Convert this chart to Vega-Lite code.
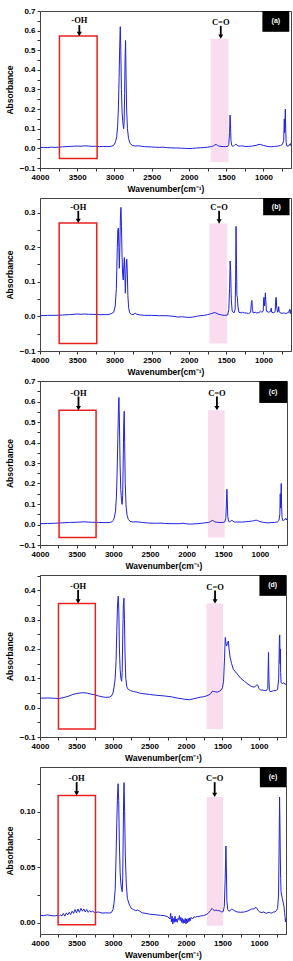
{
"$schema": "https://vega.github.io/schema/vega-lite/v6.json",
"padding": {"left": 4, "top": 6, "right": 4, "bottom": 2},
"background": "white",
"bounds": "flush",
"spacing": 30,
"datasets": {
"sa": [
{"w":4000,"a":0.004},{"w":3950,"a":0.005},{"w":3900,"a":0.004},{"w":3850,"a":0.006},{"w":3800,"a":0.005},{"w":3750,"a":0.006},{"w":3700,"a":0.008},{"w":3650,"a":0.009},{"w":3600,"a":0.01},{"w":3550,"a":0.011},{"w":3500,"a":0.012},{"w":3450,"a":0.011},{"w":3400,"a":0.013},{"w":3350,"a":0.012},{"w":3300,"a":0.01},{"w":3250,"a":0.011},{"w":3200,"a":0.009},{"w":3150,"a":0.01},{"w":3100,"a":0.009},{"w":3050,"a":0.01},{"w":3020,"a":0.014},{"w":3000,"a":0.02},{"w":2985,"a":0.035},{"w":2970,"a":0.06},{"w":2958,"a":0.11},{"w":2948,"a":0.2},{"w":2938,"a":0.36},{"w":2930,"a":0.52},{"w":2922,"a":0.62},{"w":2915,"a":0.5},{"w":2907,"a":0.3},{"w":2897,"a":0.18},{"w":2887,"a":0.13},{"w":2877,"a":0.1},{"w":2870,"a":0.14},{"w":2864,"a":0.28},{"w":2858,"a":0.45},{"w":2851,"a":0.55},{"w":2845,"a":0.38},{"w":2837,"a":0.2},{"w":2826,"a":0.1},{"w":2811,"a":0.05},{"w":2790,"a":0.025},{"w":2760,"a":0.015},{"w":2720,"a":0.012},{"w":2680,"a":0.013},{"w":2640,"a":0.011},{"w":2600,"a":0.009},{"w":2550,"a":0.008},{"w":2500,"a":0.007},{"w":2450,"a":0.006},{"w":2400,"a":0.005},{"w":2350,"a":0.006},{"w":2300,"a":0.004},{"w":2250,"a":0.003},{"w":2200,"a":0.002},{"w":2150,"a":0.002},{"w":2100,"a":0.001},{"w":2050,"a":0.0},{"w":2000,"a":-0.001},{"w":1950,"a":0.0},{"w":1900,"a":0.002},{"w":1850,"a":0.003},{"w":1800,"a":0.004},{"w":1750,"a":0.006},{"w":1700,"a":0.009},{"w":1670,"a":0.013},{"w":1650,"a":0.018},{"w":1635,"a":0.02},{"w":1620,"a":0.016},{"w":1600,"a":0.012},{"w":1570,"a":0.01},{"w":1540,"a":0.009},{"w":1510,"a":0.009},{"w":1480,"a":0.01},{"w":1465,"a":0.02},{"w":1455,"a":0.08},{"w":1448,"a":0.17},{"w":1442,"a":0.12},{"w":1436,"a":0.04},{"w":1426,"a":0.015},{"w":1405,"a":0.01},{"w":1385,"a":0.018},{"w":1370,"a":0.022},{"w":1358,"a":0.016},{"w":1335,"a":0.012},{"w":1310,"a":0.012},{"w":1290,"a":0.013},{"w":1250,"a":0.01},{"w":1200,"a":0.01},{"w":1150,"a":0.012},{"w":1100,"a":0.015},{"w":1060,"a":0.02},{"w":1040,"a":0.02},{"w":1000,"a":0.015},{"w":950,"a":0.01},{"w":900,"a":0.008},{"w":850,"a":0.01},{"w":800,"a":0.012},{"w":770,"a":0.015},{"w":745,"a":0.02},{"w":728,"a":0.04},{"w":720,"a":0.15},{"w":716,"a":0.08},{"w":711,"a":0.12},{"w":706,"a":0.2},{"w":701,"a":0.1},{"w":695,"a":0.03},{"w":685,"a":0.012},{"w":665,"a":0.012},{"w":650,"a":0.02},{"w":640,"a":0.015},{"w":630,"a":0.028}
],
"sb": [
{"w":4000,"a":0.002},{"w":3900,"a":0.003},{"w":3800,"a":0.003},{"w":3700,"a":0.004},{"w":3600,"a":0.005},{"w":3500,"a":0.007},{"w":3450,"a":0.006},{"w":3400,"a":0.007},{"w":3350,"a":0.006},{"w":3300,"a":0.006},{"w":3200,"a":0.005},{"w":3100,"a":0.005},{"w":3050,"a":0.007},{"w":3010,"a":0.012},{"w":2990,"a":0.03},{"w":2975,"a":0.08},{"w":2962,"a":0.2},{"w":2955,"a":0.25},{"w":2948,"a":0.255},{"w":2941,"a":0.2},{"w":2935,"a":0.139},{"w":2928,"a":0.2},{"w":2920,"a":0.29},{"w":2913,"a":0.315},{"w":2906,"a":0.26},{"w":2898,"a":0.17},{"w":2890,"a":0.12},{"w":2882,"a":0.105},{"w":2874,"a":0.15},{"w":2867,"a":0.17},{"w":2860,"a":0.12},{"w":2854,"a":0.067},{"w":2848,"a":0.11},{"w":2840,"a":0.16},{"w":2834,"a":0.165},{"w":2827,"a":0.12},{"w":2820,"a":0.06},{"w":2810,"a":0.025},{"w":2795,"a":0.01},{"w":2770,"a":0.005},{"w":2740,"a":0.006},{"w":2722,"a":0.01},{"w":2705,"a":0.006},{"w":2650,"a":0.004},{"w":2600,"a":0.003},{"w":2500,"a":0.003},{"w":2400,"a":0.002},{"w":2300,"a":0.002},{"w":2200,"a":0.0},{"w":2150,"a":-0.002},{"w":2100,"a":-0.001},{"w":2050,"a":-0.002},{"w":2000,"a":-0.003},{"w":1950,"a":-0.002},{"w":1900,"a":0.0},{"w":1850,"a":0.002},{"w":1800,"a":0.003},{"w":1750,"a":0.005},{"w":1700,"a":0.008},{"w":1660,"a":0.011},{"w":1640,"a":0.01},{"w":1600,"a":0.006},{"w":1560,"a":0.004},{"w":1520,"a":0.003},{"w":1480,"a":0.004},{"w":1465,"a":0.02},{"w":1455,"a":0.08},{"w":1447,"a":0.16},{"w":1440,"a":0.13},{"w":1432,"a":0.05},{"w":1420,"a":0.015},{"w":1395,"a":0.01},{"w":1380,"a":0.02},{"w":1374,"a":0.1},{"w":1368,"a":0.26},{"w":1362,"a":0.15},{"w":1356,"a":0.06},{"w":1350,"a":0.055},{"w":1343,"a":0.03},{"w":1330,"a":0.012},{"w":1300,"a":0.01},{"w":1280,"a":0.012},{"w":1260,"a":0.01},{"w":1230,"a":0.01},{"w":1200,"a":0.008},{"w":1172,"a":0.012},{"w":1162,"a":0.04},{"w":1155,"a":0.046},{"w":1148,"a":0.02},{"w":1138,"a":0.01},{"w":1110,"a":0.012},{"w":1090,"a":0.01},{"w":1060,"a":0.011},{"w":1040,"a":0.015},{"w":1020,"a":0.012},{"w":1003,"a":0.015},{"w":997,"a":0.05},{"w":992,"a":0.055},{"w":986,"a":0.03},{"w":980,"a":0.04},{"w":974,"a":0.068},{"w":968,"a":0.045},{"w":960,"a":0.015},{"w":930,"a":0.012},{"w":905,"a":0.014},{"w":895,"a":0.024},{"w":889,"a":0.012},{"w":860,"a":0.01},{"w":842,"a":0.015},{"w":835,"a":0.05},{"w":829,"a":0.055},{"w":823,"a":0.03},{"w":812,"a":0.012},{"w":800,"a":0.015},{"w":795,"a":0.028},{"w":790,"a":0.015},{"w":775,"a":0.01},{"w":750,"a":0.009},{"w":720,"a":0.01},{"w":700,"a":0.008},{"w":680,"a":0.01},{"w":660,"a":0.012},{"w":648,"a":0.02},{"w":640,"a":0.008},{"w":630,"a":0.02}
],
"sc": [
{"w":4000,"a":0.004},{"w":3900,"a":0.005},{"w":3800,"a":0.006},{"w":3700,"a":0.008},{"w":3600,"a":0.01},{"w":3500,"a":0.011},{"w":3400,"a":0.013},{"w":3300,"a":0.011},{"w":3200,"a":0.01},{"w":3100,"a":0.009},{"w":3050,"a":0.01},{"w":3020,"a":0.013},{"w":3000,"a":0.02},{"w":2985,"a":0.035},{"w":2970,"a":0.065},{"w":2958,"a":0.13},{"w":2948,"a":0.25},{"w":2938,"a":0.42},{"w":2930,"a":0.56},{"w":2923,"a":0.62},{"w":2916,"a":0.5},{"w":2908,"a":0.3},{"w":2898,"a":0.17},{"w":2888,"a":0.12},{"w":2880,"a":0.098},{"w":2872,"a":0.14},{"w":2865,"a":0.3},{"w":2858,"a":0.48},{"w":2851,"a":0.552},{"w":2845,"a":0.4},{"w":2837,"a":0.2},{"w":2826,"a":0.09},{"w":2812,"a":0.045},{"w":2795,"a":0.025},{"w":2770,"a":0.015},{"w":2730,"a":0.012},{"w":2690,"a":0.013},{"w":2650,"a":0.012},{"w":2600,"a":0.01},{"w":2550,"a":0.008},{"w":2500,"a":0.007},{"w":2400,"a":0.006},{"w":2350,"a":0.007},{"w":2300,"a":0.005},{"w":2200,"a":0.004},{"w":2100,"a":0.004},{"w":2050,"a":0.006},{"w":2000,"a":0.003},{"w":1950,"a":0.002},{"w":1900,"a":0.003},{"w":1850,"a":0.004},{"w":1800,"a":0.006},{"w":1750,"a":0.008},{"w":1700,"a":0.01},{"w":1670,"a":0.015},{"w":1650,"a":0.02},{"w":1635,"a":0.018},{"w":1615,"a":0.013},{"w":1590,"a":0.011},{"w":1560,"a":0.01},{"w":1530,"a":0.01},{"w":1500,"a":0.01},{"w":1480,"a":0.012},{"w":1465,"a":0.03},{"w":1457,"a":0.1},{"w":1450,"a":0.172},{"w":1444,"a":0.11},{"w":1438,"a":0.04},{"w":1428,"a":0.016},{"w":1410,"a":0.012},{"w":1395,"a":0.018},{"w":1385,"a":0.022},{"w":1370,"a":0.016},{"w":1345,"a":0.012},{"w":1300,"a":0.012},{"w":1250,"a":0.012},{"w":1200,"a":0.013},{"w":1150,"a":0.015},{"w":1100,"a":0.017},{"w":1070,"a":0.02},{"w":1050,"a":0.021},{"w":1030,"a":0.019},{"w":1000,"a":0.014},{"w":950,"a":0.01},{"w":900,"a":0.008},{"w":850,"a":0.009},{"w":800,"a":0.01},{"w":760,"a":0.013},{"w":740,"a":0.02},{"w":728,"a":0.05},{"w":722,"a":0.15},{"w":718,"a":0.08},{"w":714,"a":0.12},{"w":709,"a":0.2},{"w":704,"a":0.1},{"w":698,"a":0.035},{"w":690,"a":0.02},{"w":675,"a":0.02},{"w":660,"a":0.025},{"w":650,"a":0.03},{"w":640,"a":0.022},{"w":630,"a":0.03}
],
"sd": [
{"w":4000,"a":0.032},{"w":3900,"a":0.033},{"w":3800,"a":0.032},{"w":3750,"a":0.031},{"w":3700,"a":0.033},{"w":3650,"a":0.036},{"w":3600,"a":0.04},{"w":3550,"a":0.045},{"w":3500,"a":0.048},{"w":3450,"a":0.05},{"w":3400,"a":0.051},{"w":3350,"a":0.049},{"w":3300,"a":0.046},{"w":3250,"a":0.044},{"w":3200,"a":0.04},{"w":3150,"a":0.037},{"w":3100,"a":0.035},{"w":3050,"a":0.036},{"w":3020,"a":0.04},{"w":3000,"a":0.05},{"w":2985,"a":0.07},{"w":2970,"a":0.1},{"w":2958,"a":0.16},{"w":2948,"a":0.26},{"w":2938,"a":0.35},{"w":2928,"a":0.38},{"w":2920,"a":0.33},{"w":2912,"a":0.2},{"w":2902,"a":0.13},{"w":2892,"a":0.1},{"w":2882,"a":0.09},{"w":2874,"a":0.12},{"w":2866,"a":0.25},{"w":2858,"a":0.35},{"w":2850,"a":0.373},{"w":2843,"a":0.3},{"w":2835,"a":0.18},{"w":2825,"a":0.1},{"w":2810,"a":0.07},{"w":2790,"a":0.062},{"w":2760,"a":0.058},{"w":2720,"a":0.055},{"w":2680,"a":0.053},{"w":2640,"a":0.05},{"w":2600,"a":0.048},{"w":2500,"a":0.045},{"w":2400,"a":0.042},{"w":2300,"a":0.04},{"w":2200,"a":0.037},{"w":2150,"a":0.034},{"w":2100,"a":0.032},{"w":2050,"a":0.03},{"w":2000,"a":0.028},{"w":1950,"a":0.027},{"w":1900,"a":0.03},{"w":1850,"a":0.033},{"w":1800,"a":0.036},{"w":1760,"a":0.037},{"w":1720,"a":0.04},{"w":1690,"a":0.043},{"w":1660,"a":0.048},{"w":1640,"a":0.056},{"w":1620,"a":0.055},{"w":1600,"a":0.054},{"w":1570,"a":0.053},{"w":1540,"a":0.056},{"w":1520,"a":0.06},{"w":1500,"a":0.068},{"w":1485,"a":0.09},{"w":1472,"a":0.17},{"w":1462,"a":0.239},{"w":1455,"a":0.225},{"w":1445,"a":0.21},{"w":1432,"a":0.218},{"w":1420,"a":0.227},{"w":1410,"a":0.2},{"w":1395,"a":0.17},{"w":1375,"a":0.15},{"w":1350,"a":0.13},{"w":1300,"a":0.115},{"w":1250,"a":0.1},{"w":1200,"a":0.09},{"w":1150,"a":0.08},{"w":1100,"a":0.072},{"w":1070,"a":0.07},{"w":1050,"a":0.072},{"w":1030,"a":0.078},{"w":1015,"a":0.075},{"w":1000,"a":0.065},{"w":980,"a":0.06},{"w":950,"a":0.06},{"w":920,"a":0.058},{"w":900,"a":0.058},{"w":880,"a":0.065},{"w":870,"a":0.188},{"w":864,"a":0.1},{"w":857,"a":0.058},{"w":850,"a":0.055},{"w":820,"a":0.056},{"w":800,"a":0.058},{"w":780,"a":0.058},{"w":760,"a":0.06},{"w":745,"a":0.062},{"w":730,"a":0.1},{"w":720,"a":0.24},{"w":715,"a":0.248},{"w":711,"a":0.15},{"w":707,"a":0.2},{"w":703,"a":0.12},{"w":697,"a":0.085},{"w":680,"a":0.082},{"w":660,"a":0.085},{"w":645,"a":0.08},{"w":630,"a":0.08}
],
"se": [
{"w":4000,"a":0.0068},{"w":3950,"a":0.0065},{"w":3900,"a":0.0072},{"w":3850,"a":0.0066},{"w":3800,"a":0.0062},{"w":3760,"a":0.0068},{"w":3740,"a":0.0058},{"w":3720,"a":0.0072},{"w":3700,"a":0.0062},{"w":3680,"a":0.0085},{"w":3660,"a":0.006},{"w":3640,"a":0.009},{"w":3620,"a":0.0072},{"w":3600,"a":0.0095},{"w":3580,"a":0.0075},{"w":3560,"a":0.0105},{"w":3540,"a":0.0085},{"w":3520,"a":0.012},{"w":3500,"a":0.009},{"w":3480,"a":0.0125},{"w":3460,"a":0.0095},{"w":3440,"a":0.013},{"w":3420,"a":0.0105},{"w":3400,"a":0.0125},{"w":3380,"a":0.0098},{"w":3360,"a":0.012},{"w":3340,"a":0.0095},{"w":3320,"a":0.011},{"w":3300,"a":0.0098},{"w":3280,"a":0.0105},{"w":3250,"a":0.0092},{"w":3200,"a":0.0098},{"w":3150,"a":0.0088},{"w":3100,"a":0.009},{"w":3050,"a":0.0088},{"w":3020,"a":0.0095},{"w":3000,"a":0.012},{"w":2985,"a":0.018},{"w":2970,"a":0.03},{"w":2958,"a":0.06},{"w":2948,"a":0.09},{"w":2938,"a":0.115},{"w":2930,"a":0.125},{"w":2922,"a":0.11},{"w":2912,"a":0.07},{"w":2902,"a":0.045},{"w":2892,"a":0.035},{"w":2882,"a":0.03},{"w":2874,"a":0.028},{"w":2867,"a":0.04},{"w":2860,"a":0.08},{"w":2853,"a":0.118},{"w":2848,"a":0.126},{"w":2841,"a":0.1},{"w":2831,"a":0.06},{"w":2818,"a":0.035},{"w":2803,"a":0.022},{"w":2780,"a":0.017},{"w":2750,"a":0.013},{"w":2720,"a":0.012},{"w":2690,"a":0.011},{"w":2660,"a":0.0115},{"w":2640,"a":0.0108},{"w":2600,"a":0.009},{"w":2550,"a":0.0085},{"w":2500,"a":0.0078},{"w":2450,"a":0.0075},{"w":2400,"a":0.0072},{"w":2350,"a":0.0068},{"w":2300,"a":0.0065},{"w":2250,"a":0.0055},{"w":2220,"a":0.0035},{"w":2210,"a":0.0085},{"w":2200,"a":0.001},{"w":2190,"a":0.006},{"w":2180,"a":-0.001},{"w":2170,"a":0.004},{"w":2160,"a":0.0005},{"w":2150,"a":0.006},{"w":2140,"a":0.001},{"w":2130,"a":0.0035},{"w":2120,"a":0.0005},{"w":2110,"a":0.004},{"w":2100,"a":0.003},{"w":2090,"a":0.0065},{"w":2080,"a":0.002},{"w":2070,"a":0.005},{"w":2060,"a":0.0005},{"w":2050,"a":0.004},{"w":2040,"a":-0.0005},{"w":2030,"a":0.003},{"w":2020,"a":0.0},{"w":2010,"a":0.004},{"w":2000,"a":-0.001},{"w":1990,"a":0.0035},{"w":1980,"a":0.0},{"w":1970,"a":0.004},{"w":1960,"a":0.001},{"w":1950,"a":0.0045},{"w":1940,"a":0.002},{"w":1930,"a":0.005},{"w":1910,"a":0.0035},{"w":1890,"a":0.0055},{"w":1870,"a":0.005},{"w":1850,"a":0.0058},{"w":1820,"a":0.0058},{"w":1800,"a":0.0062},{"w":1760,"a":0.0065},{"w":1720,"a":0.0075},{"w":1690,"a":0.009},{"w":1665,"a":0.011},{"w":1645,"a":0.013},{"w":1630,"a":0.012},{"w":1610,"a":0.011},{"w":1590,"a":0.0115},{"w":1570,"a":0.011},{"w":1555,"a":0.0112},{"w":1530,"a":0.0105},{"w":1510,"a":0.0098},{"w":1490,"a":0.0102},{"w":1475,"a":0.015},{"w":1463,"a":0.04},{"w":1453,"a":0.069},{"w":1447,"a":0.05},{"w":1440,"a":0.02},{"w":1428,"a":0.012},{"w":1410,"a":0.0105},{"w":1395,"a":0.011},{"w":1375,"a":0.0125},{"w":1360,"a":0.012},{"w":1340,"a":0.011},{"w":1300,"a":0.0098},{"w":1250,"a":0.0095},{"w":1200,"a":0.0098},{"w":1150,"a":0.0108},{"w":1120,"a":0.0118},{"w":1100,"a":0.0125},{"w":1080,"a":0.0125},{"w":1060,"a":0.0128},{"w":1045,"a":0.0142},{"w":1030,"a":0.013},{"w":1010,"a":0.011},{"w":990,"a":0.0098},{"w":960,"a":0.0092},{"w":940,"a":0.0098},{"w":920,"a":0.0092},{"w":900,"a":0.0085},{"w":880,"a":0.0092},{"w":860,"a":0.0095},{"w":840,"a":0.0088},{"w":820,"a":0.009},{"w":800,"a":0.0098},{"w":780,"a":0.0098},{"w":760,"a":0.0112},{"w":745,"a":0.013},{"w":732,"a":0.025},{"w":724,"a":0.07},{"w":718,"a":0.113},{"w":713,"a":0.09},{"w":708,"a":0.06},{"w":703,"a":0.04},{"w":698,"a":0.028},{"w":690,"a":0.025},{"w":680,"a":0.022},{"w":668,"a":0.018},{"w":658,"a":0.015},{"w":650,"a":0.0095},{"w":643,"a":0.005},{"w":638,"a":0.001},{"w":634,"a":0.0025},{"w":630,"a":0.004}
],
"aa": [
{"k":"pink","w":1708,"w2":1469,"a":0.558,"a2":-0.069},
{"k":"red","w":3739,"w2":3233,"a":0.572,"a2":-0.052},
{"k":"shaft","w":3472,"a":0.628,"a2":0.583},
{"k":"shaft","w":1573,"a":0.624,"a2":0.569},
{"k":"head","w":3472,"a":0.583},
{"k":"head","w":1573,"a":0.569},
{"k":"txt","w":3472,"a":0.654,"t":"-OH"},
{"k":"txt","w":1573,"a":0.644,"t":"C=O"},
{"k":"box","w":1014,"w2":653,"a":0.7,"a2":0.594},
{"k":"lab","w":833,"a":0.647,"t":"(a)"}
],
"ab": [
{"k":"pink","w":1725,"w2":1487,"a":0.268,"a2":-0.078},
{"k":"red","w":3743,"w2":3238,"a":0.27,"a2":-0.078},
{"k":"shaft","w":3486,"a":0.305,"a2":0.276},
{"k":"shaft","w":1595,"a":0.305,"a2":0.274},
{"k":"head","w":3486,"a":0.276},
{"k":"head","w":1595,"a":0.274},
{"k":"txt","w":3486,"a":0.316,"t":"-OH"},
{"k":"txt","w":1595,"a":0.316,"t":"C=O"},
{"k":"box","w":1004,"w2":650,"a":0.342,"a2":0.292},
{"k":"lab","w":827,"a":0.317,"t":"(b)"}
],
"ac": [
{"k":"pink","w":1709,"w2":1481,"a":0.557,"a2":-0.064},
{"k":"red","w":3740,"w2":3235,"a":0.557,"a2":-0.064},
{"k":"shaft","w":3475,"a":0.624,"a2":0.568},
{"k":"shaft","w":1586,"a":0.624,"a2":0.568},
{"k":"head","w":3475,"a":0.568},
{"k":"head","w":1586,"a":0.568},
{"k":"txt","w":3475,"a":0.642,"t":"-OH"},
{"k":"txt","w":1586,"a":0.642,"t":"C=O"},
{"k":"box","w":1008,"w2":630,"a":0.7,"a2":0.593},
{"k":"lab","w":819,"a":0.646,"t":"(c)"}
],
"ad": [
{"k":"pink","w":1720,"w2":1493,"a":0.355,"a2":-0.073},
{"k":"red","w":3747,"w2":3242,"a":0.355,"a2":-0.073},
{"k":"shaft","w":3478,"a":0.401,"a2":0.362},
{"k":"shaft","w":1602,"a":0.399,"a2":0.362},
{"k":"head","w":3478,"a":0.362},
{"k":"head","w":1602,"a":0.362},
{"k":"txt","w":3478,"a":0.413,"t":"-OH"},
{"k":"txt","w":1602,"a":0.411,"t":"C=O"},
{"k":"box","w":994,"w2":630,"a":0.452,"a2":0.381},
{"k":"lab","w":812,"a":0.417,"t":"(d)"}
],
"ae": [
{"k":"pink","w":1716,"w2":1494,"a":0.113,"a2":-0.0025},
{"k":"red","w":3752,"w2":3240,"a":0.1143,"a2":-0.0018},
{"k":"shaft","w":3498,"a":0.1264,"a2":0.1163},
{"k":"shaft","w":1607,"a":0.1264,"a2":0.115},
{"k":"head","w":3498,"a":0.1163},
{"k":"head","w":1607,"a":0.115},
{"k":"txt","w":3498,"a":0.13,"t":"-OH"},
{"k":"txt","w":1607,"a":0.13,"t":"C=O"},
{"k":"box","w":988,"w2":630,"a":0.14,"a2":0.1218},
{"k":"lab","w":809,"a":0.131,"t":"(e)"}
]
},
"vconcat": [
{
"width": 251, "height": 157,
"encoding": {
"x": {"field": "w", "type": "quantitative", "scale": {"domain": [630, 4000], "reverse": true, "nice": false, "zero": false}, "axis": {"title": "Wavenumber(cm⁻¹)", "values": [4000,3750,3500,3250,3000,2750,2500,2250,2000,1750,1500,1250,1000,750], "format": "d", "labelExpr": "datum.value % 500 == 0 ? datum.label : ''"}},
"y": {"field": "a", "type": "quantitative", "scale": {"domain": [-0.1, 0.7], "nice": false, "zero": false}, "axis": {"title": "Absorbance", "values": [-0.1,-0.05,0,0.05,0.1,0.15,0.2,0.25,0.3,0.35,0.4,0.45,0.5,0.55,0.6,0.65,0.7], "format": ".1f", "labelExpr": "abs(round(datum.value*100)) % 10 == 0 ? datum.label : ''"}}
},
"layer": [
{"data": {"name": "aa"}, "transform": [{"filter": "datum.k == 'pink'"}], "mark": {"type": "rect", "color": "#f9dcee"}, "encoding": {"x2": {"field": "w2"}, "y2": {"field": "a2"}}},
{"data": {"name": "sa"}, "mark": {"type": "line", "color": "#1e22e0", "strokeWidth": 1, "clip": true}, "encoding": {}},
{"data": {"name": "aa"}, "transform": [{"filter": "datum.k == 'red'"}], "mark": {"type": "rect", "fill": "transparent", "stroke": "#e8201e", "strokeWidth": 1.5}, "encoding": {"x2": {"field": "w2"}, "y2": {"field": "a2"}}},
{"data": {"name": "aa"}, "transform": [{"filter": "datum.k == 'shaft'"}], "mark": {"type": "rule", "color": "#000", "strokeWidth": 1.8}, "encoding": {"y2": {"field": "a2"}}},
{"data": {"name": "aa"}, "transform": [{"filter": "datum.k == 'head'"}], "mark": {"type": "point", "shape": "triangle-down", "filled": true, "size": 25, "color": "#000", "opacity": 1}},
{"data": {"name": "aa"}, "transform": [{"filter": "datum.k == 'txt'"}], "mark": {"type": "text", "font": "Liberation Serif", "fontWeight": "bold", "fontSize": 8.5, "color": "#000", "baseline": "middle"}, "encoding": {"text": {"field": "t"}}},
{"data": {"name": "aa"}, "transform": [{"filter": "datum.k == 'box'"}], "mark": {"type": "rect", "color": "#000"}, "encoding": {"x2": {"field": "w2"}, "y2": {"field": "a2"}}},
{"data": {"name": "aa"}, "transform": [{"filter": "datum.k == 'lab'"}], "mark": {"type": "text", "font": "Liberation Sans", "fontWeight": "bold", "fontSize": 7, "color": "#fff", "baseline": "middle"}, "encoding": {"text": {"field": "t"}}}
]
},
{
"width": 251, "height": 153,
"encoding": {
"x": {"field": "w", "type": "quantitative", "scale": {"domain": [630, 4000], "reverse": true, "nice": false, "zero": false}, "axis": {"title": "Wavenumber(cm⁻¹)", "values": [4000,3750,3500,3250,3000,2750,2500,2250,2000,1750,1500,1250,1000,750], "format": "d", "labelExpr": "datum.value % 500 == 0 ? datum.label : ''"}},
"y": {"field": "a", "type": "quantitative", "scale": {"domain": [-0.1, 0.342], "nice": false, "zero": false}, "axis": {"title": "Absorbance", "values": [-0.1,-0.05,0,0.05,0.1,0.15,0.2,0.25,0.3], "format": ".1f", "labelExpr": "abs(round(datum.value*100)) % 10 == 0 ? datum.label : ''"}}
},
"layer": [
{"data": {"name": "ab"}, "transform": [{"filter": "datum.k == 'pink'"}], "mark": {"type": "rect", "color": "#f9dcee"}, "encoding": {"x2": {"field": "w2"}, "y2": {"field": "a2"}}},
{"data": {"name": "sb"}, "mark": {"type": "line", "color": "#1e22e0", "strokeWidth": 1, "clip": true}, "encoding": {}},
{"data": {"name": "ab"}, "transform": [{"filter": "datum.k == 'red'"}], "mark": {"type": "rect", "fill": "transparent", "stroke": "#e8201e", "strokeWidth": 1.5}, "encoding": {"x2": {"field": "w2"}, "y2": {"field": "a2"}}},
{"data": {"name": "ab"}, "transform": [{"filter": "datum.k == 'shaft'"}], "mark": {"type": "rule", "color": "#000", "strokeWidth": 1.8}, "encoding": {"y2": {"field": "a2"}}},
{"data": {"name": "ab"}, "transform": [{"filter": "datum.k == 'head'"}], "mark": {"type": "point", "shape": "triangle-down", "filled": true, "size": 25, "color": "#000", "opacity": 1}},
{"data": {"name": "ab"}, "transform": [{"filter": "datum.k == 'txt'"}], "mark": {"type": "text", "font": "Liberation Serif", "fontWeight": "bold", "fontSize": 8.5, "color": "#000", "baseline": "middle"}, "encoding": {"text": {"field": "t"}}},
{"data": {"name": "ab"}, "transform": [{"filter": "datum.k == 'box'"}], "mark": {"type": "rect", "color": "#000"}, "encoding": {"x2": {"field": "w2"}, "y2": {"field": "a2"}}},
{"data": {"name": "ab"}, "transform": [{"filter": "datum.k == 'lab'"}], "mark": {"type": "text", "font": "Liberation Sans", "fontWeight": "bold", "fontSize": 7, "color": "#fff", "baseline": "middle"}, "encoding": {"text": {"field": "t"}}}
]
},
{
"width": 247, "height": 164,
"encoding": {
"x": {"field": "w", "type": "quantitative", "scale": {"domain": [630, 4000], "reverse": true, "nice": false, "zero": false}, "axis": {"title": "Wavenumber(cm⁻¹)", "values": [4000,3750,3500,3250,3000,2750,2500,2250,2000,1750,1500,1250,1000,750], "format": "d", "labelExpr": "datum.value % 500 == 0 ? datum.label : ''"}},
"y": {"field": "a", "type": "quantitative", "scale": {"domain": [-0.1, 0.7], "nice": false, "zero": false}, "axis": {"title": "Absorbance", "values": [-0.1,-0.05,0,0.05,0.1,0.15,0.2,0.25,0.3,0.35,0.4,0.45,0.5,0.55,0.6,0.65,0.7], "format": ".1f", "labelExpr": "abs(round(datum.value*100)) % 10 == 0 ? datum.label : ''"}}
},
"layer": [
{"data": {"name": "ac"}, "transform": [{"filter": "datum.k == 'pink'"}], "mark": {"type": "rect", "color": "#f9dcee"}, "encoding": {"x2": {"field": "w2"}, "y2": {"field": "a2"}}},
{"data": {"name": "sc"}, "mark": {"type": "line", "color": "#1e22e0", "strokeWidth": 1, "clip": true}, "encoding": {}},
{"data": {"name": "ac"}, "transform": [{"filter": "datum.k == 'red'"}], "mark": {"type": "rect", "fill": "transparent", "stroke": "#e8201e", "strokeWidth": 1.5}, "encoding": {"x2": {"field": "w2"}, "y2": {"field": "a2"}}},
{"data": {"name": "ac"}, "transform": [{"filter": "datum.k == 'shaft'"}], "mark": {"type": "rule", "color": "#000", "strokeWidth": 1.8}, "encoding": {"y2": {"field": "a2"}}},
{"data": {"name": "ac"}, "transform": [{"filter": "datum.k == 'head'"}], "mark": {"type": "point", "shape": "triangle-down", "filled": true, "size": 25, "color": "#000", "opacity": 1}},
{"data": {"name": "ac"}, "transform": [{"filter": "datum.k == 'txt'"}], "mark": {"type": "text", "font": "Liberation Serif", "fontWeight": "bold", "fontSize": 8.5, "color": "#000", "baseline": "middle"}, "encoding": {"text": {"field": "t"}}},
{"data": {"name": "ac"}, "transform": [{"filter": "datum.k == 'box'"}], "mark": {"type": "rect", "color": "#000"}, "encoding": {"x2": {"field": "w2"}, "y2": {"field": "a2"}}},
{"data": {"name": "ac"}, "transform": [{"filter": "datum.k == 'lab'"}], "mark": {"type": "text", "font": "Liberation Sans", "fontWeight": "bold", "fontSize": 7, "color": "#fff", "baseline": "middle"}, "encoding": {"text": {"field": "t"}}}
]
},
{
"width": 246, "height": 162,
"encoding": {
"x": {"field": "w", "type": "quantitative", "scale": {"domain": [630, 4000], "reverse": true, "nice": false, "zero": false}, "axis": {"title": "Wavenumber(cm⁻¹)", "values": [4000,3750,3500,3250,3000,2750,2500,2250,2000,1750,1500,1250,1000,750], "format": "d", "labelExpr": "datum.value % 500 == 0 ? datum.label : ''"}},
"y": {"field": "a", "type": "quantitative", "scale": {"domain": [-0.1, 0.452], "nice": false, "zero": false}, "axis": {"title": "Absorbance", "values": [-0.1,-0.05,0,0.05,0.1,0.15,0.2,0.25,0.3,0.35,0.4,0.45], "format": ".1f", "labelExpr": "abs(round(datum.value*100)) % 10 == 0 ? datum.label : ''"}}
},
"layer": [
{"data": {"name": "ad"}, "transform": [{"filter": "datum.k == 'pink'"}], "mark": {"type": "rect", "color": "#f9dcee"}, "encoding": {"x2": {"field": "w2"}, "y2": {"field": "a2"}}},
{"data": {"name": "sd"}, "mark": {"type": "line", "color": "#1e22e0", "strokeWidth": 1, "clip": true}, "encoding": {}},
{"data": {"name": "ad"}, "transform": [{"filter": "datum.k == 'red'"}], "mark": {"type": "rect", "fill": "transparent", "stroke": "#e8201e", "strokeWidth": 1.5}, "encoding": {"x2": {"field": "w2"}, "y2": {"field": "a2"}}},
{"data": {"name": "ad"}, "transform": [{"filter": "datum.k == 'shaft'"}], "mark": {"type": "rule", "color": "#000", "strokeWidth": 1.8}, "encoding": {"y2": {"field": "a2"}}},
{"data": {"name": "ad"}, "transform": [{"filter": "datum.k == 'head'"}], "mark": {"type": "point", "shape": "triangle-down", "filled": true, "size": 25, "color": "#000", "opacity": 1}},
{"data": {"name": "ad"}, "transform": [{"filter": "datum.k == 'txt'"}], "mark": {"type": "text", "font": "Liberation Serif", "fontWeight": "bold", "fontSize": 8.5, "color": "#000", "baseline": "middle"}, "encoding": {"text": {"field": "t"}}},
{"data": {"name": "ad"}, "transform": [{"filter": "datum.k == 'box'"}], "mark": {"type": "rect", "color": "#000"}, "encoding": {"x2": {"field": "w2"}, "y2": {"field": "a2"}}},
{"data": {"name": "ad"}, "transform": [{"filter": "datum.k == 'lab'"}], "mark": {"type": "text", "font": "Liberation Sans", "fontWeight": "bold", "fontSize": 7, "color": "#fff", "baseline": "middle"}, "encoding": {"text": {"field": "t"}}}
]
},
{
"width": 246, "height": 167,
"encoding": {
"x": {"field": "w", "type": "quantitative", "scale": {"domain": [630, 4000], "reverse": true, "nice": false, "zero": false}, "axis": {"title": "Wavenumber(cm⁻¹)", "values": [4000,3750,3500,3250,3000,2750,2500,2250,2000,1750,1500,1250,1000,750], "format": "d", "labelExpr": "datum.value % 500 == 0 ? datum.label : ''"}},
"y": {"field": "a", "type": "quantitative", "scale": {"domain": [-0.01, 0.14], "nice": false, "zero": false}, "axis": {"title": "Absorbance", "values": [0,0.025,0.05,0.075,0.1,0.125], "format": ".2f", "labelExpr": "round(datum.value*1000) % 50 == 0 ? datum.label : ''"}}
},
"layer": [
{"data": {"name": "ae"}, "transform": [{"filter": "datum.k == 'pink'"}], "mark": {"type": "rect", "color": "#f9dcee"}, "encoding": {"x2": {"field": "w2"}, "y2": {"field": "a2"}}},
{"data": {"name": "se"}, "mark": {"type": "line", "color": "#1e22e0", "strokeWidth": 1, "clip": true}, "encoding": {}},
{"data": {"name": "ae"}, "transform": [{"filter": "datum.k == 'red'"}], "mark": {"type": "rect", "fill": "transparent", "stroke": "#e8201e", "strokeWidth": 1.5}, "encoding": {"x2": {"field": "w2"}, "y2": {"field": "a2"}}},
{"data": {"name": "ae"}, "transform": [{"filter": "datum.k == 'shaft'"}], "mark": {"type": "rule", "color": "#000", "strokeWidth": 1.8}, "encoding": {"y2": {"field": "a2"}}},
{"data": {"name": "ae"}, "transform": [{"filter": "datum.k == 'head'"}], "mark": {"type": "point", "shape": "triangle-down", "filled": true, "size": 25, "color": "#000", "opacity": 1}},
{"data": {"name": "ae"}, "transform": [{"filter": "datum.k == 'txt'"}], "mark": {"type": "text", "font": "Liberation Serif", "fontWeight": "bold", "fontSize": 8.5, "color": "#000", "baseline": "middle"}, "encoding": {"text": {"field": "t"}}},
{"data": {"name": "ae"}, "transform": [{"filter": "datum.k == 'box'"}], "mark": {"type": "rect", "color": "#000"}, "encoding": {"x2": {"field": "w2"}, "y2": {"field": "a2"}}},
{"data": {"name": "ae"}, "transform": [{"filter": "datum.k == 'lab'"}], "mark": {"type": "text", "font": "Liberation Sans", "fontWeight": "bold", "fontSize": 7, "color": "#fff", "baseline": "middle"}, "encoding": {"text": {"field": "t"}}}
]
}
],
"config": {
"view": {"stroke": "#444", "strokeWidth": 1},
"axis": {"grid": false, "labelFont": "Liberation Sans", "labelFontWeight": "bold", "labelFontSize": 8, "labelColor": "#000", "titleFont": "Liberation Sans", "titleFontWeight": "bold", "titleFontSize": 8.5, "titleColor": "#000", "tickSize": 3, "tickColor": "#333", "domainColor": "#444", "labelPadding": 2, "labelFlush": false, "labelOverlap": false},
"axisY": {"minExtent": 22, "maxExtent": 22, "titlePadding": 4},
"axisX": {"titlePadding": 3}
}
}
